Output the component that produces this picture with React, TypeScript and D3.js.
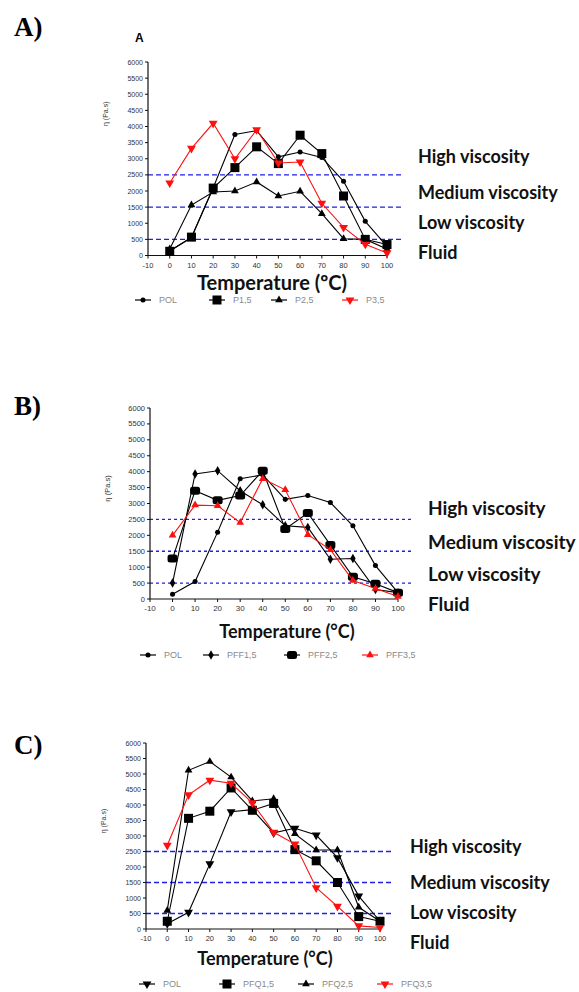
import React from 'react'
import * as d3 from 'd3'

// temperatures (ºC)
const temps = [0, 10, 20, 30, 40, 50, 60, 70, 80, 90, 100]
const xTicks = d3.range(-10, 101, 10)
const yTicks = d3.range(0, 6001, 500)
const levels = [2500, 1500, 500]
const levelNames = ['High viscosity', 'Medium viscosity', 'Low viscosity', 'Fluid']

// panel A
const polA = [150, 550, 2100, 3750, 3870, 3060, 3210, 3040, 2300, 1060, 280]
const p15 = [130, 570, 2090, 2725, 3370, 2850, 3730, 3160, 1845, 500, 340]
const p25 = [200, 1565, 1970, 2000, 2280, 1845, 1990, 1295, 520, 500, 200]
const p35 = [2250, 3320, 4100, 3000, 3900, 2870, 2900, 1620, 870, 350, 80]

// panel B
const polB = [150, 550, 2100, 3780, 3900, 3130, 3250, 3030, 2300, 1050, 200]
const pff15 = [500, 3930, 4030, 3400, 2960, 2300, 2250, 1250, 1270, 300, 200]
const pff25 = [1270, 3400, 3100, 3250, 4030, 2200, 2700, 1700, 700, 480, 200]
const pff35 = [2000, 2950, 2930, 2400, 3780, 3430, 2020, 1550, 580, 330, 80]

// panel C
const polC = [170, 540, 2100, 3780, 3850, 3100, 3250, 3030, 2300, 1060, 250]
const pfq15 = [250, 3570, 3800, 4550, 3830, 4050, 2560, 2200, 1500, 400, 250]
const pfq25 = [600, 5120, 5400, 4900, 4130, 4200, 3070, 2550, 2550, 700, 250]
const pfq35 = [2700, 4330, 4800, 4700, 4070, 3120, 2740, 1330, 730, 100, 50]

const Marker = ({ kind, x, y, color }) => {
  if (kind === 'bigsquare') {
    return <rect x={x - 4.5} y={y - 4.5} width={9} height={9} fill={color} />
  }
  if (kind === 'oct') {
    return <rect x={x - 5} y={y - 4} width={10} height={8} rx={2.5} fill={color} />
  }
  let type = d3.symbolCircle
  let size = 20
  let rot = 0
  if (kind === 'tri') { type = d3.symbolTriangle; size = 26 }
  if (kind === 'down') { type = d3.symbolTriangle; size = 34; rot = 180 }
  if (kind === 'diamond') { type = d3.symbolDiamond; size = 26 }
  const path = d3.symbol().type(type).size(size)()
  return <path d={path} transform={`translate(${x},${y}) rotate(${rot})`} fill={color} />
}

const Panel = ({ p }) => {
  const x = d3.scaleLinear().domain([-10, 100]).range([p.x0, p.x1])
  const y = d3.scaleLinear().domain([0, 6000]).range([p.y0, p.y1])
  const line = d3
    .line<number>()
    .x((d, i) => x(temps[i]))
    .y((d) => y(d))

  return (
    <g>
      <text x={14} y={p.letterY} fontFamily="Liberation Serif" fontWeight="bold" fontSize={27}>
        {p.letter}
      </text>
      {p.head && (
        <text x={p.x0 - 13} y={p.y1 - 20} fontFamily="Liberation Sans" fontWeight="bold" fontSize={12}>
          {p.head}
        </text>
      )}

      {/* level lines */}
      {levels.map((l) => (
        <line
          key={l}
          x1={p.x0}
          x2={p.dashEnd}
          y1={y(l)}
          y2={y(l)}
          stroke="#1f1fe6"
          strokeWidth={1.4}
          strokeDasharray={p.dash}
        />
      ))}

      {/* axes */}
      <line x1={p.x0} x2={p.x0} y1={p.y0} y2={p.y1} stroke="#111" strokeWidth={1.2} />
      <line x1={p.x0} x2={p.x1} y1={p.y0} y2={p.y0} stroke="#111" strokeWidth={1.2} />
      {yTicks.map((t) => (
        <g key={t}>
          <line x1={p.x0 - 3} x2={p.x0} y1={y(t)} y2={y(t)} stroke="#111" strokeWidth={1} />
          <text
            x={p.x0 - 5}
            y={y(t) + 2.5}
            textAnchor="end"
            fontFamily="Liberation Sans"
            fontSize={p.tickSize}
            fill="#333"
          >
            {t}
          </text>
        </g>
      ))}
      {xTicks.map((t) => (
        <g key={t}>
          <line x1={x(t)} x2={x(t)} y1={p.y0} y2={p.y0 + 3} stroke="#111" strokeWidth={1} />
          <text
            x={x(t)}
            y={p.y0 + 12}
            textAnchor="middle"
            fontFamily="Liberation Sans"
            fontSize={p.tickSize + 0.5}
            fill="#333"
          >
            {t}
          </text>
        </g>
      ))}
      <text
        transform={`translate(${p.x0 - 40},${(p.y0 + p.y1) / 2 + p.yLabOff}) rotate(-90)`}
        textAnchor="middle"
        fontFamily="Liberation Sans"
        fontSize={p.tickSize}
        fill="#333"
      >
        η (Pa.s)
      </text>
      <text
        x={p.titleX}
        y={p.titleY}
        textAnchor="middle"
        fontFamily="Lato"
        fontWeight="bold"
        fontSize={p.titleSize}
        fill="#111"
      >
        {p.title}
      </text>

      {/* series */}
      {p.series.map((s) => (
        <g key={s.name}>
          <path d={line(s.values)} fill="none" stroke={s.color} strokeWidth={1.1} />
          {s.values.map((v, i) => (
            <Marker key={i} kind={s.kind} x={x(temps[i])} y={y(v)} color={s.color} />
          ))}
        </g>
      ))}

      {/* level names */}
      {levelNames.map((n, i) => (
        <text
          key={n}
          x={p.labX}
          y={p.labY[i] + 6}
          fontFamily="Lato"
          fontWeight="bold"
          fontSize={p.labSize}
          fill="#111"
        >
          {n}
        </text>
      ))}

      {/* legend */}
      {p.series.map((s, i) => (
        <g key={s.name}>
          <line
            x1={p.legX[i] - 8}
            x2={p.legX[i] + 8}
            y1={p.legY}
            y2={p.legY}
            stroke={s.color}
            strokeWidth={1.2}
          />
          <Marker kind={s.kind} x={p.legX[i]} y={p.legY} color={s.color} />
          <text
            x={p.legX[i] + 16}
            y={p.legY + 3}
            fontFamily="Liberation Sans"
            fontSize={9}
            fill="#8a8a8a"
          >
            {s.name}
          </text>
        </g>
      ))}
    </g>
  )
}

const panels = [
  {
    letter: 'A)',
    letterY: 36,
    head: 'A',
    x0: 148,
    x1: 387,
    y0: 255.5,
    y1: 62,
    dashEnd: 402,
    dash: '5,3',
    tickSize: 7,
    yLabOff: -45,
    title: 'Temperature (ºC)',
    titleX: 272,
    titleY: 290,
    titleSize: 20,
    labX: 418,
    labY: [157, 193, 223, 253],
    labSize: 18,
    legY: 300,
    legX: [143, 217, 279, 350],
    series: [
      { name: 'POL', values: polA, kind: 'circle', color: '#000' },
      { name: 'P1,5', values: p15, kind: 'bigsquare', color: '#000' },
      { name: 'P2,5', values: p25, kind: 'tri', color: '#000' },
      { name: 'P3,5', values: p35, kind: 'down', color: '#ff1010' }
    ]
  },
  {
    letter: 'B)',
    letterY: 415,
    head: null,
    x0: 150,
    x1: 398,
    y0: 599,
    y1: 408,
    dashEnd: 414,
    dash: '3,3',
    tickSize: 7.5,
    yLabOff: -15,
    title: 'Temperature (°C)',
    titleX: 287,
    titleY: 638,
    titleSize: 18,
    labX: 428,
    labY: [509, 543, 575, 605],
    labSize: 19,
    legY: 655,
    legX: [148, 211, 292, 370],
    series: [
      { name: 'POL', values: polB, kind: 'circle', color: '#000' },
      { name: 'PFF1,5', values: pff15, kind: 'diamond', color: '#000' },
      { name: 'PFF2,5', values: pff25, kind: 'oct', color: '#000' },
      { name: 'PFF3,5', values: pff35, kind: 'tri', color: '#ff1010' }
    ]
  },
  {
    letter: 'C)',
    letterY: 754,
    head: null,
    x0: 146,
    x1: 380,
    y0: 929,
    y1: 743,
    dashEnd: 393,
    dash: '5,3',
    tickSize: 7,
    yLabOff: -15,
    title: 'Temperature (°C)',
    titleX: 265,
    titleY: 965,
    titleSize: 18,
    labX: 410,
    labY: [847, 883, 913, 943],
    labSize: 18,
    legY: 984,
    legX: [147, 227, 306, 385],
    series: [
      { name: 'POL', values: polC, kind: 'down', color: '#000' },
      { name: 'PFQ1,5', values: pfq15, kind: 'bigsquare', color: '#000' },
      { name: 'PFQ2,5', values: pfq25, kind: 'tri', color: '#000' },
      { name: 'PFQ3,5', values: pfq35, kind: 'down', color: '#ff1010' }
    ]
  }
]

const App = () => {
  return (
    <svg
      width={579}
      height={992}
      style={{ position: 'absolute', left: 0, top: 0, background: '#fff' }}
    >
      {panels.map((p) => (
        <Panel key={p.letter} p={p} />
      ))}
    </svg>
  )
}

export default App
